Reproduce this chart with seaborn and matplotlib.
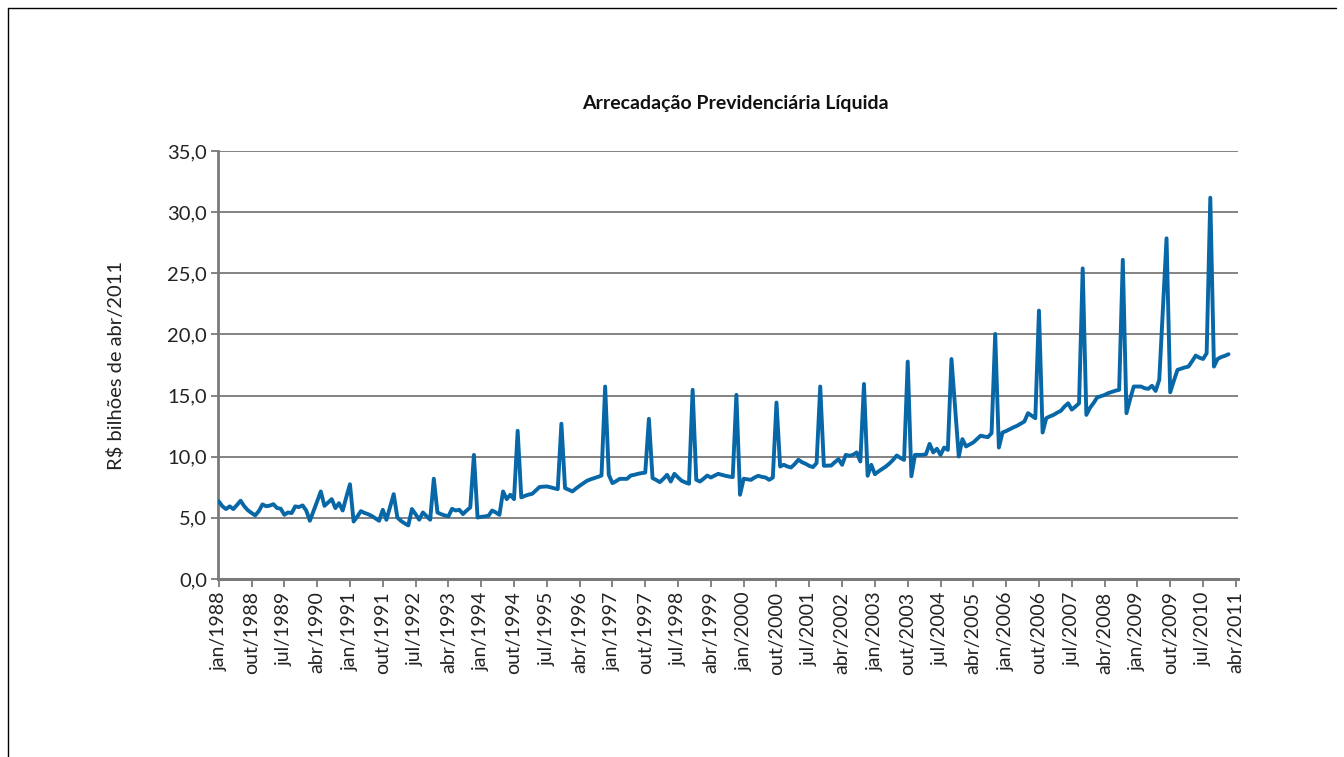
import matplotlib
matplotlib.use("Agg")
import matplotlib.pyplot as plt
import matplotlib.lines as mlines
import seaborn as sns
import pandas as pd

# ---- data (R$ billions, monthly from jan/1988) ----
start_year = 1988
month_names = ["jan", "fev", "mar", "abr", "mai", "jun",
               "jul", "ago", "set", "out", "nov", "dez"]

v1988 = [6.35, 5.95, 5.72, 5.94, 5.72, 6.05, 6.40, 5.95, 5.62, 5.40, 5.20, 5.55]
v1989 = [6.10, 5.95, 6.00, 6.12, 5.80, 5.75, 5.25, 5.44, 5.39, 5.94, 5.88, 6.02]
v1990 = [5.60, 4.76, 5.55, 6.35, 7.16, 5.98, 6.25, 6.53, 5.80, 6.20, 5.60, 6.70]
v1991 = [7.75, 4.70, 5.10, 5.55, 5.40, 5.30, 5.15, 4.95, 4.76, 5.66, 4.84, 5.90]
v1992 = [6.94, 5.03, 4.75, 4.55, 4.38, 5.72, 5.30, 4.85, 5.44, 5.15, 4.85, 8.20]
v1993 = [5.44, 5.30, 5.20, 5.12, 5.74, 5.60, 5.66, 5.31, 5.60, 5.85, 10.15, 5.03]
v1994 = [5.08, 5.12, 5.17, 5.60, 5.44, 5.25, 7.16, 6.53, 6.89, 6.53, 12.12, 6.67]
v1995 = [6.80, 6.90, 6.97, 7.25, 7.52, 7.55, 7.57, 7.50, 7.42, 7.35, 12.70, 7.43]
v1996 = [7.30, 7.16, 7.40, 7.62, 7.82, 8.03, 8.15, 8.25, 8.35, 8.46, 15.74, 8.52]
v1997 = [7.84, 8.00, 8.19, 8.19, 8.19, 8.46, 8.52, 8.60, 8.66, 8.70, 13.10, 8.25]
v1998 = [8.10, 7.92, 8.20, 8.52, 7.97, 8.60, 8.30, 8.03, 7.90, 7.79, 15.47, 8.11]
v1999 = [7.97, 8.20, 8.46, 8.30, 8.45, 8.60, 8.52, 8.44, 8.38, 8.33, 15.06, 6.89]
v2000 = [8.20, 8.15, 8.11, 8.30, 8.44, 8.35, 8.30, 8.11, 8.30, 14.43, 9.20, 9.34]
v2001 = [9.20, 9.12, 9.40, 9.75, 9.55, 9.42, 9.25, 9.15, 9.48, 15.74, 9.26, 9.27]
v2002 = [9.28, 9.55, 9.80, 9.34, 10.15, 10.08, 10.15, 10.35, 9.61, 15.95, 8.44, 9.34]
v2003 = [8.57, 8.80, 9.00, 9.20, 9.45, 9.75, 10.10, 9.90, 9.74, 17.78, 8.40, 10.15]
v2004 = [10.15, 10.15, 10.20, 11.05, 10.35, 10.65, 10.15, 10.75, 10.56, 17.99, 14.00, 10.02]
v2005 = [11.44, 10.84, 11.00, 11.17, 11.45, 11.72, 11.65, 11.60, 11.93, 20.04, 10.75, 11.98]
v2006 = [12.10, 12.25, 12.40, 12.53, 12.70, 12.88, 13.56, 13.35, 13.15, 21.95, 11.98, 13.15]
v2007 = [13.30, 13.42, 13.60, 13.75, 14.10, 14.37, 13.85, 14.10, 14.37, 25.40, 13.42, 14.00]
v2008 = [14.40, 14.86, 14.95, 15.05, 15.20, 15.30, 15.40, 15.47, 26.10, 13.56, 14.70, 15.74]
v2009 = [15.74, 15.74, 15.60, 15.55, 15.80, 15.38, 16.29, 22.00, 27.86, 15.27, 16.20, 17.10]
v2010 = [17.20, 17.30, 17.37, 17.80, 18.27, 18.10, 17.99, 18.46, 31.18, 17.37, 17.99, 18.15]
v2011 = [18.25, 18.38]

values = (v1988 + v1989 + v1990 + v1991 + v1992 + v1993 + v1994 + v1995 +
          v1996 + v1997 + v1998 + v1999 + v2000 + v2001 + v2002 + v2003 +
          v2004 + v2005 + v2006 + v2007 + v2008 + v2009 + v2010 + v2011)

tick_step = 9
n_ticks = 32  # jan/1988 ... abr/2011
tick_pos = [i * tick_step for i in range(n_ticks)]
tick_labels = [f"{month_names[p % 12]}/{start_year + p // 12}" for p in tick_pos]

y_ticks = [0, 5, 10, 15, 20, 25, 30, 35]
y_labels = [f"{t:.1f}".replace(".", ",") for t in y_ticks]

df = pd.DataFrame({"mes": list(range(len(values))), "valor": values})

# ---- figure ----
sns.set_theme(style="white")
plt.rcParams["font.family"] = ["Lato", "DejaVu Sans"]

fig = plt.figure(figsize=(13.44, 7.57), dpi=100)
ax = fig.add_axes([218 / 1344, 1 - 579 / 757, (1238 - 218) / 1344, (579 - 151) / 757])

grid_c = "#7a7a7a"
for t in y_ticks[1:]:
    ax.axhline(t, color=grid_c, lw=1.3, zorder=1)

sns.lineplot(data=df, x="mes", y="valor", ax=ax, color="#0767a7",
             lw=2.8, zorder=3, solid_joinstyle="round")

ax.set_xlim(-0.2, 279.6)
ax.set_ylim(0, 35)
ax.set_yticks(y_ticks)
ax.set_yticklabels(y_labels, fontsize=14.5, color="#222222")
ax.set_xticks(tick_pos)
ax.set_xticklabels(tick_labels, rotation=90, fontsize=14, color="#222222")
ax.tick_params(axis="y", length=5, width=1.3, color=grid_c, pad=3, left=True)
ax.tick_params(axis="x", length=6, width=1.3, color=grid_c, pad=3, bottom=True)
ax.set_xlabel("")
ax.set_ylabel("R$ bilhões de abr/2011", fontsize=14.5, color="#222222", labelpad=30)

for s in ["top", "right"]:
    ax.spines[s].set_visible(False)
ax.spines["left"].set_color(grid_c)
ax.spines["left"].set_linewidth(2.0)
ax.spines["bottom"].set_color(grid_c)
ax.spines["bottom"].set_linewidth(2.2)

fig.text(735 / 1344, 1 - 104 / 757, "Arrecadação Previdenciária Líquida",
         ha="center", va="center", fontsize=14, fontweight="bold", color="#111111")

# outer frame (top and left edges)
fig.add_artist(mlines.Line2D([8 / 1344, 1336 / 1344], [1 - 8 / 757, 1 - 8 / 757],
                             color="black", lw=1.0, transform=fig.transFigure))
fig.add_artist(mlines.Line2D([8 / 1344, 8 / 1344], [1 - 8 / 757, 0],
                             color="black", lw=1.0, transform=fig.transFigure))

fig.savefig("out.png", dpi=100, facecolor="white")
